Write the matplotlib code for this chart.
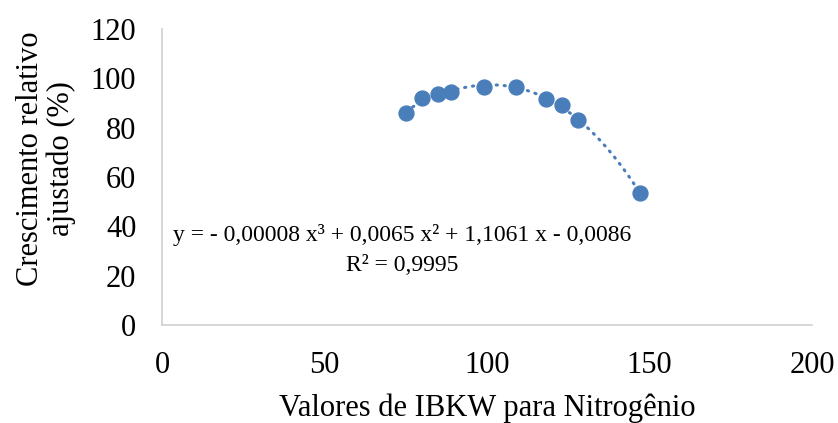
import numpy as np
import matplotlib
matplotlib.use("Agg")
import matplotlib.pyplot as plt

plt.rcParams.update(
    {
        "font.family": ["Liberation Serif", "DejaVu Serif"],
        "font.size": 22,
    }
)

# IBKW values for nitrogen and adjusted relative growth (%)
ibkw = [75, 80, 85, 89, 99, 109, 118, 123, 128, 147]
growth = [85.8, 91.9, 93.6, 94.4, 96.6, 96.5, 91.5, 89.3, 83.1, 53.6]

x_ticks = [0, 50, 100, 150, 200]
y_ticks = [0, 20, 40, 60, 80, 100, 120]

equation = "y = - 0,00008 x³ + 0,0065 x² + 1,1061 x - 0,0086"
r2_text = "R² = 0,9995"

blue = "#4A7EBB"

fig = plt.figure(figsize=(8.38, 4.23), dpi=100)
ax = fig.add_axes([0.1933, 0.2317, 0.7757, 0.6997])

# cubic trendline fitted on the points
coef = np.polyfit(ibkw, growth, 3)
xs = np.linspace(min(ibkw), max(ibkw), 200)
ax.plot(xs, np.polyval(coef, xs), color=blue, linewidth=2.2,
        linestyle=(0, (0.4, 2.2)), dash_capstyle="round", zorder=2)
ax.scatter(ibkw, growth, s=115, color=blue, edgecolors=blue, zorder=3)

ax.set_xlim(0, 200)
ax.set_ylim(0, 120)
ax.set_xticks(x_ticks)
ax.set_yticks(y_ticks)
ax.tick_params(length=0, labelsize=22)
ax.tick_params(axis="y", pad=18.5)
ax.tick_params(axis="x", pad=18.5)

for side in ("top", "right"):
    ax.spines[side].set_visible(False)
for side in ("left", "bottom"):
    ax.spines[side].set_color("#d0d0d0")
    ax.spines[side].set_linewidth(1.2)

ax.set_xlabel("Valores de IBKW para Nitrogênio", fontsize=22, labelpad=10)
fig.text(46 / 838, 1 - 159 / 423, "Crescimento relativo\najustado (%)",
         fontsize=22, rotation=90, ha="center", va="center",
         multialignment="center", linespacing=1.1)

fig.text(402 / 838, 1 - 241 / 423, equation, fontsize=17,
         ha="center", va="baseline")
fig.text(402 / 838, 1 - 271 / 423, r2_text, fontsize=17,
         ha="center", va="baseline")

fig.savefig("out.png", dpi=100)
